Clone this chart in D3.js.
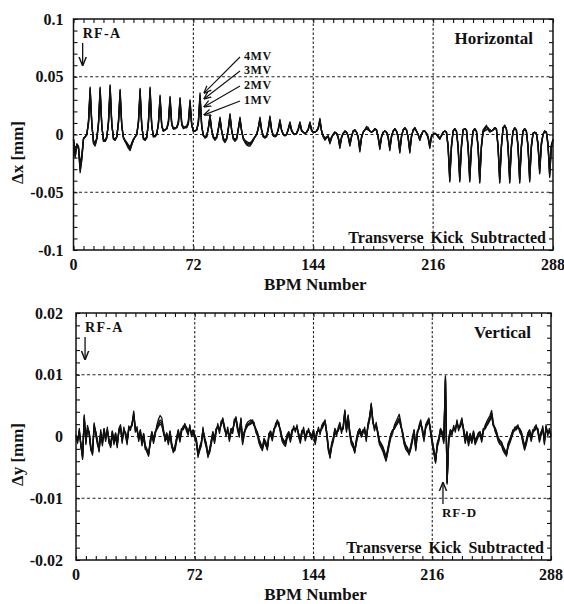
<!DOCTYPE html>
<html><head><meta charset="utf-8">
<script src="https://cdn.jsdelivr.net/npm/d3@7"></script>
<style>
body{margin:0;background:#fff}
svg text{font-family:"Liberation Serif","Times New Roman",serif;font-weight:bold;fill:#111}
</style>
</head><body><svg id="c" width="564" height="604"></svg>
<script>
// ---------- categories / ticks ----------
const bpmMajorTicks = [0, 72, 144, 216, 288];
const bpmMajorLabels = ["0", "72", "144", "216", "288"];
const seriesNames = ["1MV", "2MV", "3MV", "4MV"];
// horizontal values are in micrometres (0.001 mm)
const dxTickValues = [-100, -50, 0, 50, 100];
const dxTickLabels = ["-0.1", "-0.05", "0", "0.05", "0.1"];
// vertical values are in units of 0.1 micrometre (0.0001 mm)
const dyTickValues = [-200, -100, 0, 100, 200];
const dyTickLabels = ["-0.02", "-0.01", "0", "0.01", "0.02"];

// ---------- horizontal orbit difference, BPM 0..288 (µm) ----------
const dx4MV = [
-5,-20,-10,-12,-33,-22,-4,-2,0,12,41,10,
-8,-10,-4,10,41,8,-6,-6,-3,12,43,10,
-4,-5,-2,12,39,8,-3,-6,-9,-12,-14,-9,
-5,-2,0,12,40,8,-4,-5,-3,12,41,8,
-2,-2,0,10,34,8,3,4,5,12,33,10,
5,6,6,12,32,10,6,7,7,12,30,9,
3,3,4,12,36,8,-1,-3,-2,6,17,4,
-3,-5,-3,5,15,3,-5,-7,-4,6,18,4,
-4,-6,-4,5,15,3,-4,-7,-9,-10,-10,-8,
-5,-2,0,6,15,4,-2,-3,-2,6,16,4,
-1,-2,-1,5,13,4,0,-1,0,5,11,4,
1,0,1,5,11,4,2,1,2,5,11,4,
2,2,3,6,14,3,-2,-5,-3,-2,-8,-3,
0,2,1,-3,-12,-3,1,3,2,-2,-10,-2,
3,4,2,-3,-15,-3,2,4,5,4,3,2,
3,5,4,-3,-13,-2,2,3,2,-3,-14,-2,
3,5,3,-3,-16,-2,4,6,4,-3,-16,-2,
4,6,3,0,-5,0,3,3,1,-3,-12,-2,
0,1,0,-2,-4,-1,2,3,2,-12,-41,-12,
3,5,3,-12,-41,-12,4,5,4,-12,-41,-12,
3,5,3,-12,-42,-12,2,3,4,5,4,3,
4,6,5,-12,-42,-12,6,8,5,-12,-42,-12,
3,6,4,-12,-42,-12,3,5,3,-12,-41,-12,
1,2,1,-10,-34,-10,0,3,2,-10,-37,-12,
-5];
const dx3MV = [
-5,-19,-10,-12,-31,-21,-4,-2,0,11,40,10,
-7,-9,-4,10,40,8,-5,-6,-3,11,42,9,
-4,-5,-2,11,38,8,-3,-6,-8,-11,-13,-9,
-5,-2,0,11,39,8,-4,-5,-3,11,40,8,
-2,-1,0,10,33,8,3,4,5,11,32,9,
5,6,6,11,31,10,6,6,7,11,29,9,
3,3,4,11,34,8,-1,-3,-2,6,16,4,
-3,-4,-3,5,14,3,-4,-6,-4,5,17,4,
-4,-5,-4,5,14,3,-4,-6,-8,-9,-9,-7,
-5,-2,0,6,14,4,-2,-3,-2,5,15,4,
-1,-2,-1,5,12,4,0,-1,0,5,10,4,
1,0,1,5,10,4,2,1,2,5,10,4,
2,2,3,6,13,3,-2,-4,-3,-2,-7,-3,
0,2,1,-3,-11,-3,1,3,2,-2,-9,-2,
3,4,2,-3,-14,-3,2,4,5,4,3,2,
3,5,4,-3,-12,-2,2,3,2,-3,-13,-2,
3,5,3,-3,-15,-2,4,6,4,-3,-15,-2,
4,6,3,0,-5,0,3,3,1,-3,-11,-2,
0,1,0,-2,-4,-1,2,3,2,-11,-40,-11,
3,5,3,-11,-40,-11,4,5,4,-11,-40,-11,
3,5,3,-11,-41,-11,2,4,6,6,4,3,
4,6,5,-11,-41,-11,6,8,5,-11,-41,-11,
3,6,4,-11,-41,-11,3,5,3,-11,-40,-11,
1,2,1,-9,-33,-9,0,3,2,-9,-36,-11,
-5];
const dx2MV = [
-4,-17,-9,-11,-29,-19,-4,-2,0,10,38,9,
-6,-8,-3,9,38,7,-5,-5,-2,10,40,9,
-3,-4,-2,10,36,7,-3,-5,-7,-10,-12,-8,
-4,-2,0,10,37,7,-3,-4,-2,10,38,7,
-1,-1,1,9,31,7,3,4,5,10,30,9,
5,5,6,10,29,9,6,6,6,10,27,8,
3,3,4,10,32,7,-1,-2,-1,5,15,4,
-2,-4,-2,5,13,3,-4,-6,-3,5,16,4,
-3,-5,-3,5,13,3,-3,-6,-7,-8,-8,-7,
-4,-2,0,5,13,4,-2,-2,-1,5,14,4,
-1,-1,0,4,11,4,0,-1,0,4,10,3,
1,0,1,4,10,3,2,1,2,4,10,4,
2,2,3,5,12,3,-1,-4,-2,-2,-7,-2,
0,2,1,-2,-10,-2,1,3,2,-2,-9,-2,
3,4,2,-2,-13,-2,2,4,6,5,3,2,
3,5,4,-2,-11,-2,2,3,2,-2,-12,-2,
3,5,3,-2,-14,-2,4,5,4,-2,-14,-2,
4,5,3,0,-4,0,3,3,1,-2,-10,-2,
0,1,0,-2,-3,-1,2,3,2,-10,-38,-10,
3,5,3,-10,-38,-10,4,5,4,-10,-38,-10,
3,5,3,-10,-39,-10,3,5,7,5,3,3,
4,6,5,-10,-39,-10,6,7,5,-10,-39,-10,
3,5,4,-10,-39,-10,3,5,3,-10,-38,-10,
1,2,1,-8,-31,-8,0,3,2,-8,-34,-10,
-4];
const dx1MV = [
-4,-15,-8,-10,-26,-17,-3,-2,0,9,35,8,
-5,-7,-3,8,35,7,-4,-5,-2,9,37,8,
-3,-4,-2,9,33,7,-2,-5,-7,-9,-11,-7,
-4,-2,0,9,34,7,-3,-4,-2,9,35,7,
-1,-1,1,8,29,7,3,4,5,9,28,8,
5,5,6,9,27,8,5,6,6,9,25,8,
3,3,4,9,30,7,-1,-2,-1,5,14,3,
-2,-3,-2,4,12,3,-3,-5,-3,4,15,3,
-3,-4,-3,4,12,3,-3,-5,-6,-7,-7,-6,
-4,-2,0,5,12,3,-1,-2,-1,4,13,3,
-1,-1,0,4,10,3,0,-1,0,4,9,3,
1,0,1,4,9,3,2,1,2,4,9,3,
2,2,3,5,11,3,-1,-3,-2,-1,-6,-2,
0,2,1,-2,-9,-2,1,2,2,-1,-8,-1,
3,3,2,-2,-12,-2,2,4,7,6,3,2,
3,4,4,-2,-10,-2,2,3,2,-2,-11,-1,
3,4,3,-2,-13,-1,4,5,4,-2,-13,-1,
3,5,3,0,-4,0,3,3,1,-2,-9,-1,
0,1,0,-1,-3,-1,2,3,2,-9,-35,-9,
3,4,3,-9,-35,-9,4,5,4,-9,-35,-9,
3,4,3,-9,-36,-9,4,6,8,4,2,3,
4,5,5,-9,-36,-9,5,7,5,-9,-36,-9,
3,5,4,-9,-36,-9,3,4,3,-9,-35,-9,
1,2,1,-7,-29,-7,0,2,2,-7,-31,-9,
-4];

// ---------- vertical orbit difference, BPM 0..288 (0.1 µm) ----------
const dy4MV = [
0,-8,10,-15,-37,35,-10,15,5,-20,-30,19,
5,-10,-25,8,-12,10,-5,12,-8,-18,6,-10,
3,-15,10,16,-8,12,4,-10,14,13,20,41,
10,13,-5,8,-12,2,-18,-25,-32,-10,5,-8,
5,15,22,27,24,10,-5,3,-10,6,-14,-26,
-20,-5,8,-6,10,14,21,12,5,16,3,8,
0,-8,-34,-20,-12,12,-5,-15,-34,-24,-10,5,
-8,10,18,8,22,30,15,3,12,-5,10,8,
25,32,12,2,30,-10,5,15,20,22,24,27,
20,10,4,-8,-15,-23,-6,-12,-22,2,6,-4,
10,18,27,20,8,-5,-10,-13,0,5,-6,8,
14,10,16,2,-8,7,12,-4,6,10,3,-2,
8,-10,5,12,6,15,20,27,5,-20,-35,-15,
-5,10,4,12,20,8,15,43,10,35,5,-10,
-15,-27,-8,5,10,2,8,12,-5,18,30,54,
25,12,20,5,-10,-15,-20,-28,-38,-24,-10,2,
8,15,20,25,30,18,5,-10,-18,-22,-30,-18,
-5,8,-20,6,15,24,10,-5,16,22,27,8,
-10,-25,-43,-15,-5,10,5,-8,98,-77,-5,8,
5,15,10,24,12,18,27,10,-8,5,-12,2,
-8,6,-10,-4,3,5,-6,10,15,20,25,30,
38,20,12,5,-5,-10,-12,-20,-25,-32,-15,-8,
0,8,12,14,16,10,5,-8,-19,-10,3,8,
-5,8,12,16,10,-6,5,14,-10,16,4,10,
2];
const dy3MV = [
3,-5,6,-12,-33,30,-6,12,8,-16,-27,15,
8,-6,-21,5,-8,13,-2,9,-4,-14,9,-6,
6,-11,7,13,-4,9,7,-6,10,16,17,36,
13,9,-2,11,-8,5,-14,-20,-28,-6,8,-4,
8,11,16,20,18,6,-2,6,-6,9,-10,-22,
-16,-2,11,-3,13,11,17,15,8,13,6,11,
3,-4,-28,-16,-8,9,-2,-11,-29,-20,-6,8,
-4,13,15,11,18,26,12,6,9,-2,13,11,
21,28,15,5,26,-6,8,12,17,19,20,23,
17,13,7,-4,-11,-19,-3,-8,-18,5,9,-1,
13,15,23,17,11,-2,-6,-9,3,8,-2,11,
11,13,13,5,-4,10,9,-1,9,7,6,1,
11,-6,8,9,9,12,17,23,8,-16,-30,-11,
-2,13,7,9,17,11,12,38,13,30,8,-6,
-11,-23,-4,8,13,5,11,9,-2,15,26,48,
21,15,17,8,-6,-11,-16,-24,-33,-20,-6,5,
11,12,17,21,26,15,8,-6,-14,-18,-26,-14,
-2,11,-16,9,12,20,13,-2,13,19,23,11,
-6,-21,-38,-11,-2,13,8,-4,92,-72,-2,11,
8,12,13,20,15,15,23,13,-4,8,-8,5,
-5,9,-6,-1,6,8,-3,13,12,17,21,26,
33,17,15,8,-2,-6,-9,-16,-21,-28,-11,-5,
3,11,9,17,13,13,8,-4,-15,-6,6,11,
-2,11,9,13,13,-3,8,11,-6,13,7,7,
5];
const dy2MV = [
-3,-11,13,-18,-30,28,-13,18,2,-23,-25,22,
2,-13,-20,11,-15,7,-8,15,-11,-15,3,-13,
0,-18,13,19,-11,15,1,-13,17,10,23,34,
7,16,-8,5,-15,-1,-21,-22,-27,-13,2,-11,
2,18,28,34,30,13,-8,0,-13,3,-17,-23,
-23,-8,5,-9,7,17,18,9,2,19,0,5,
-3,-11,-30,-23,-15,15,-8,-18,-30,-27,-13,2,
-11,7,21,5,25,26,18,0,15,-8,7,5,
28,27,9,-1,26,-13,2,18,23,25,27,22,
23,7,1,-11,-18,-20,-9,-15,-19,-1,3,-7,
7,21,24,23,5,-8,-13,-16,-3,2,-9,5,
17,7,19,-1,-11,4,15,-7,3,13,0,-5,
5,-13,2,15,3,18,23,24,2,-23,-31,-18,
-8,7,1,15,23,5,18,40,7,32,2,-13,
-18,-24,-11,2,7,-1,5,15,-8,21,33,50,
28,9,23,2,-13,-18,-24,-32,-40,-27,-13,-1,
5,18,24,30,36,22,2,-13,-21,-25,-27,-21,
-8,5,-23,3,18,27,7,-8,19,25,30,5,
-13,-28,-40,-18,-8,7,2,-11,90,-75,-8,5,
2,18,7,27,9,21,30,7,-11,2,-15,-1,
-11,3,-13,-7,0,2,-9,7,18,24,29,34,
42,23,9,2,-8,-13,-15,-23,-28,-29,-18,-11,
-3,5,15,11,19,7,2,-11,-22,-13,0,5,
-8,5,15,19,7,-9,2,17,-13,19,1,13,
-1];
const dy1MV = [
2,-6,8,-13,-34,32,-8,13,7,-18,-28,17,
7,-8,-23,6,-10,12,-3,10,-6,-16,8,-8,
5,-13,8,14,-6,10,6,-8,12,15,18,38,
12,11,-3,10,-10,4,-16,-23,-30,-8,7,-6,
7,13,19,23,21,8,-3,5,-8,8,-12,-24,
-18,-3,10,-4,12,12,19,14,7,14,5,10,
2,-6,-31,-18,-10,10,-3,-13,-31,-22,-8,7,
-6,12,16,10,20,28,13,5,10,-3,12,10,
23,30,14,4,28,-8,7,13,18,20,22,25,
18,12,6,-6,-13,-21,-4,-10,-20,4,8,-2,
12,16,25,18,10,-3,-8,-11,2,7,-4,10,
12,12,14,4,-6,9,10,-2,8,8,5,0,
10,-8,7,10,8,13,18,25,7,-18,-33,-13,
-3,12,6,10,18,10,13,41,12,33,7,-8,
-13,-25,-6,7,12,4,10,10,-3,16,28,52,
23,14,18,7,-8,-13,-18,-26,-35,-22,-8,4,
10,13,18,23,28,16,7,-8,-16,-20,-28,-16,
-3,10,-18,8,13,22,12,-3,14,20,25,10,
-8,-23,-41,-13,-3,12,7,-6,95,-74,-3,10,
7,13,12,22,14,16,25,12,-6,7,-10,4,
-6,8,-8,-2,5,7,-4,12,13,18,23,28,
36,18,14,7,-3,-8,-10,-18,-23,-30,-13,-6,
2,10,10,16,14,12,7,-6,-17,-8,5,10,
-3,10,10,14,12,-4,7,12,-8,14,6,8,
4];

// ---------- drawing ----------
const svg = d3.select("#c");
const defs = svg.append("defs");
defs.append("marker").attr("id","ah").attr("viewBox","0 0 10 10").attr("refX",9).attr("refY",5)
  .attr("markerWidth",7).attr("markerHeight",7).attr("orient","auto-start-reverse")
  .append("path").attr("d","M0,1 L10,5 L0,9").attr("fill","none").attr("stroke","#111").attr("stroke-width",1.6);

function drawPanel(p) {
  const g = svg.append("g");
  const x = d3.scaleLinear().domain([0, 288]).range([p.left, p.right]);
  const y = d3.scaleLinear().domain([p.min, p.max]).range([p.bottom, p.top]);
  const idx = d3.range(p.series[0].length);

  // dashed grid
  g.selectAll(null).data(bpmMajorTicks.slice(1, 4)).join("line")
    .attr("x1", d => x(d)).attr("x2", d => x(d)).attr("y1", p.top).attr("y2", p.bottom)
    .attr("stroke", "#222").attr("stroke-width", 1.1).attr("stroke-dasharray", "2.5,2");
  g.selectAll(null).data(p.ticks.slice(1, 4)).join("line")
    .attr("x1", p.left).attr("x2", p.right).attr("y1", d => y(d)).attr("y2", d => y(d))
    .attr("stroke", "#222").attr("stroke-width", 1).attr("stroke-dasharray", "3,2.5");

  // minor ticks (inward) on all four sides
  const tk = (axis, tr) => {
    const a = g.append("g").attr("transform", tr).call(axis);
    a.select(".domain").remove();
    a.selectAll("line").attr("stroke", "#111").attr("stroke-width", 1.1);
  };
  const minorX = d3.range(0, 289, 6);
  const minorY = d3.range(p.min, p.max + 1, p.minorStep);
  tk(d3.axisBottom(x).tickValues(minorX).tickSize(-4).tickFormat(""), `translate(0,${p.bottom})`);
  tk(d3.axisTop(x).tickValues(minorX).tickSize(-4).tickFormat(""), `translate(0,${p.top})`);
  tk(d3.axisLeft(y).tickValues(minorY).tickSize(-4).tickFormat(""), `translate(${p.left},0)`);
  tk(d3.axisRight(y).tickValues(minorY).tickSize(-4).tickFormat(""), `translate(${p.right},0)`);

  // series lines
  const line = d3.line().x((d, i) => x(idx[i])).y(d => y(d));
  g.selectAll(null).data(p.series).join("path")
    .attr("d", line).attr("fill", "none").attr("stroke", "#111")
    .attr("stroke-width", 1.3).attr("stroke-linejoin", "round");

  // frame
  g.append("rect").attr("x", p.left).attr("y", p.top)
    .attr("width", p.right - p.left).attr("height", p.bottom - p.top)
    .attr("fill", "none").attr("stroke", "#111").attr("stroke-width", 1.5);

  // tick labels
  g.selectAll(null).data(bpmMajorTicks).join("text")
    .attr("x", d => x(d)).attr("y", p.bottom + 20).attr("text-anchor", "middle")
    .attr("font-size", 16).text((d, i) => bpmMajorLabels[i]);
  g.selectAll(null).data(p.ticks).join("text")
    .attr("x", p.left - p.labelPad).attr("y", d => y(d) + 5.5).attr("text-anchor", "end")
    .attr("font-size", 16).text((d, i) => p.tickLabels[i]);

  // axis titles
  g.append("text").attr("x", (p.left + p.right) / 2 + 2).attr("y", p.bottom + 39.5)
    .attr("text-anchor", "middle").attr("font-size", 17).text("BPM Number");
  g.append("text").attr("transform", `translate(23,${(p.top + p.bottom) / 2 + 18}) rotate(-90)`)
    .attr("text-anchor", "middle").attr("font-size", 17).text(p.yTitle);

  // panel labels
  g.append("text").attr("x", p.right - 20).attr("y", p.top + 25).attr("text-anchor", "end")
    .attr("font-size", 17).text(p.name);
  g.append("text").attr("x", p.right - 7).attr("y", p.bottom - 7).attr("text-anchor", "end")
    .attr("font-size", 16).attr("word-spacing", 3).text("Transverse Kick Subtracted");

  // RF-A marker
  const ax = x(5.5);
  g.append("text").attr("x", ax).attr("y", p.top + 19).attr("font-size", 14)
    .attr("letter-spacing", 1.3).text("RF-A");
  g.append("line").attr("x1", ax).attr("x2", ax).attr("y1", p.top + 24).attr("y2", p.top + 46)
    .attr("stroke", "#111").attr("stroke-width", 1.3).attr("marker-end", "url(#ah)");
  return {g, x, y};
}

const topPanel = drawPanel({
  left: 73.5, right: 553, top: 19, bottom: 250,
  min: -100, max: 100, minorStep: 10,
  ticks: dxTickValues, tickLabels: dxTickLabels, labelPad: 10,
  series: [dx1MV, dx2MV, dx3MV, dx4MV], name: "Horizontal", yTitle: "Δx [mm]"
});

// voltage labels with arrows (top panel)
const mvLabelY = [60, 74, 89, 104];            // text baselines (px)
const mvTargetVal = [36, 31, 24, 17];          // µm at BPM 78
["4MV", "3MV", "2MV", "1MV"].forEach((n, i) => {
  topPanel.g.append("text").attr("x", 244).attr("y", mvLabelY[i]).attr("font-size", 12)
    .attr("letter-spacing", 0.6).text(n);
  topPanel.g.append("line").attr("x1", 240).attr("y1", mvLabelY[i] - 3)
    .attr("x2", topPanel.x(78.5)).attr("y2", topPanel.y(mvTargetVal[i]))
    .attr("stroke", "#111").attr("stroke-width", 1.1).attr("marker-end", "url(#ah)");
});

const botPanel = drawPanel({
  left: 76, right: 551, top: 313, bottom: 560,
  min: -200, max: 200, minorStep: 20,
  ticks: dyTickValues, tickLabels: dyTickLabels, labelPad: 13,
  series: [dy1MV, dy2MV, dy3MV, dy4MV], name: "Vertical", yTitle: "Δy [mm]"
});

// RF-D marker
const rfdX = botPanel.x(222.5);
botPanel.g.append("line").attr("x1", rfdX).attr("x2", rfdX).attr("y1", 504).attr("y2", 483)
  .attr("stroke", "#111").attr("stroke-width", 1.3).attr("marker-end", "url(#ah)");
botPanel.g.append("text").attr("x", rfdX - 1).attr("y", 517).attr("font-size", 13)
  .attr("letter-spacing", 1).text("RF-D");
</script>
</body></html>
